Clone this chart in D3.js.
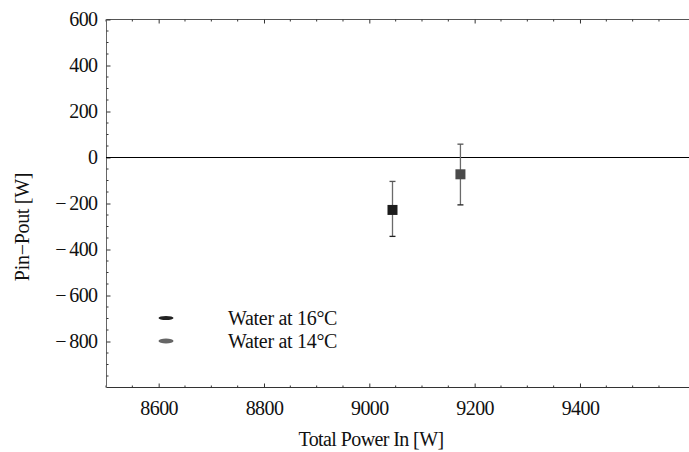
<!DOCTYPE html>
<html>
<head>
<meta charset="utf-8">
<script src="https://cdn.jsdelivr.net/npm/d3@7"></script>
<style>
  body { margin: 0; background: #fff; }
  #chart text { font-family: "Liberation Serif", "Times New Roman", serif !important; }
</style>
</head>
<body>
<svg id="chart" width="689" height="452" font-family="Liberation Serif"></svg>
<script>
// series
const seriesNames = ["Water at 16°C", "Water at 14°C"];
const seriesColors = ["#1c1c1c", "#4a4a4a"];
const powerIn = [9044, 9173];        // Total Power In [W]
const pDiff = [-228, -73];           // Pin - Pout [W]
const errLow = [-343, -206];
const errHigh = [-104, 58];

const xTicks = [8600, 8800, 9000, 9200, 9400];
const yTicks = [-800, -600, -400, -200, 0, 200, 400, 600];

const W = 689, H = 452;
const margin = {left: 106, top: 19, right: 0, bottom: 65};
const x0 = margin.left, x1 = W - margin.right;
const y0 = margin.top, y1 = H - margin.bottom;
const FONT = "Liberation Serif";

const svg = d3.select("#chart");

const x = d3.scaleLinear().domain([8500, 9607]).range([x0, x1]);
const y = d3.scaleLinear().domain([-1000, 600]).range([y1 + 0.5, y0 + 0.5]);

const fmt = v => v < 0 ? "\u2212\u2009" + Math.abs(v) : String(v);

// minor ticks every 50
const xMinor = d3.range(8500, 9601, 50).filter(v => v % 200 !== 0);
const yMinor = d3.range(-1000, 601, 50).filter(v => v % 200 !== 0);

function styleLabels(g) {
  g.attr("font-family", FONT).attr("font-size", 20);
  g.selectAll(".tick text")
    .attr("fill", "#111").attr("letter-spacing", -0.6);
}

// bottom axis (ticks inward)
svg.append("g")
    .attr("transform", `translate(0,${y1 + 0.5})`)
    .call(d3.axisBottom(x).tickValues(xTicks).tickSize(-4).tickPadding(13).tickFormat(d3.format("d")))
    .call(g => g.select(".domain").attr("stroke", "#333").attr("d", `M${x0},0H${x1}`))
    .call(g => g.selectAll(".tick line").attr("stroke", "#333"))
    .call(styleLabels);
svg.append("g").selectAll("line").data(xMinor).join("line")
    .attr("x1", d => x(d)).attr("x2", d => x(d))
    .attr("y1", y1 + 0.5).attr("y2", y1 - 1.5).attr("stroke", "#333");

// top frame (ticks inward, no labels)
svg.append("g")
    .attr("transform", `translate(0,${y0 + 0.5})`)
    .call(d3.axisTop(x).tickValues(xTicks).tickSize(-4).tickFormat(""))
    .call(g => g.select(".domain").attr("stroke", "#555").attr("d", `M${x0},0H${x1}`))
    .call(g => g.selectAll(".tick line").attr("stroke", "#333"))
    .call(g => g.selectAll(".tick text").remove());
svg.append("g").selectAll("line").data(xMinor).join("line")
    .attr("x1", d => x(d)).attr("x2", d => x(d))
    .attr("y1", y0 + 0.5).attr("y2", y0 + 2.5).attr("stroke", "#333");

// left axis (ticks inward)
svg.append("g")
    .attr("transform", `translate(${x0 + 0.5},0)`)
    .call(d3.axisLeft(y).tickValues(yTicks).tickSize(-4).tickPadding(9).tickFormat(fmt))
    .call(g => g.select(".domain").attr("stroke", "#666").attr("d", `M0,${y0}V${y1 + 1}`))
    .call(g => g.selectAll(".tick line").attr("stroke", "#333"))
    .call(styleLabels);
svg.append("g").selectAll("line").data(yMinor).join("line")
    .attr("x1", x0 + 0.5).attr("x2", x0 + 2.5)
    .attr("y1", d => y(d)).attr("y2", d => y(d)).attr("stroke", "#333");

// zero line
svg.append("line")
    .attr("x1", x0).attr("x2", x1)
    .attr("y1", y(0)).attr("y2", y(0))
    .attr("stroke", "#000").attr("stroke-width", 1);

// error bars and points
const pts = powerIn.map((p, i) => ({x: p, y: pDiff[i], lo: errLow[i], hi: errHigh[i], c: seriesColors[i]}));
const eb = svg.append("g").selectAll("g").data(pts).join("g");
eb.append("line")
    .attr("x1", d => x(d.x)).attr("x2", d => x(d.x))
    .attr("y1", d => y(d.lo)).attr("y2", d => y(d.hi))
    .attr("stroke", "#6a6a6a").attr("stroke-width", 1.3);
eb.append("line")
    .attr("x1", d => x(d.x) - 3).attr("x2", d => x(d.x) + 3)
    .attr("y1", d => y(d.hi)).attr("y2", d => y(d.hi))
    .attr("stroke", "#555").attr("stroke-width", 1.3);
eb.append("line")
    .attr("x1", d => x(d.x) - 3).attr("x2", d => x(d.x) + 3)
    .attr("y1", d => y(d.lo)).attr("y2", d => y(d.lo))
    .attr("stroke", "#222").attr("stroke-width", 1.3);
eb.append("rect")
    .attr("x", d => x(d.x) - 5).attr("y", d => y(d.y) - 5)
    .attr("width", 10).attr("height", 10)
    .attr("fill", d => d.c);

// legend
const leg = svg.append("g").selectAll("g").data(seriesNames).join("g")
    .attr("transform", (d, i) => `translate(166,${318 + i * 23})`);
leg.append("ellipse")
    .attr("rx", 7.5).attr("ry", (d, i) => i === 0 ? 2 : 2.6)
    .attr("fill", (d, i) => i === 0 ? "#222" : "#666");
leg.append("text")
    .attr("x", 62).attr("y", 7)
    .attr("font-size", 20).attr("fill", "#111")
    .attr("letter-spacing", -0.3)
    .text(d => d);

// axis titles
svg.append("text")
    .attr("x", 371).attr("y", 446)
    .attr("text-anchor", "middle")
    .attr("font-size", 20).attr("fill", "#111")
    .attr("letter-spacing", -0.6)
    .text("Total Power In [W]");
svg.append("text")
    .attr("transform", "translate(29,227) rotate(-90)")
    .attr("text-anchor", "middle")
    .attr("font-size", 20).attr("fill", "#111")
    .attr("letter-spacing", -0.3)
    .text("Pin\u2212Pout [W]");
</script>
</body>
</html>
